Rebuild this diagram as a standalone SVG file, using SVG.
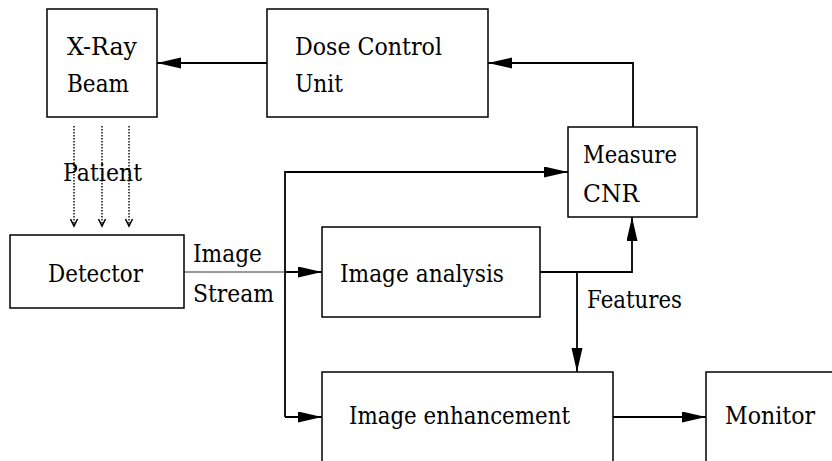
<svg xmlns="http://www.w3.org/2000/svg" width="832" height="461" viewBox="0 0 832 461">
<defs>
<marker id="ah" markerUnits="userSpaceOnUse" markerWidth="26" markerHeight="14" refX="24" refY="5.5" orient="auto">
<path d="M0,0 L24,5.5 L0,11 z" fill="#000"/>
</marker>
<marker id="open" markerUnits="userSpaceOnUse" markerWidth="10" markerHeight="10" refX="4" refY="8" orient="0">
<path d="M0.5,1 L4,8 L7.5,1" fill="none" stroke="#000" stroke-width="1.5"/>
</marker>
<style>
.box{fill:#fff;stroke:#000;stroke-width:1.5}
.t{font-family:"DejaVu Serif",serif;font-size:25px;fill:#000}
.c{fill:none;stroke:#000;stroke-width:1.8}
.thin{fill:none;stroke:#333;stroke-width:1}
.dot{fill:none;stroke:#000;stroke-width:1.4;stroke-dasharray:1.5 1.5}
</style>
</defs>
<rect width="832" height="461" fill="#fff"/>
<g id="connectors">
<path class="c" d="M267,63 H157" marker-end="url(#ah)"/>
<path class="c" d="M633,127 V63 H488" marker-end="url(#ah)"/>
<path class="c" d="M285,417 V172 H568" marker-end="url(#ah)"/>
<path class="thin" d="M184,272 H285"/>
<path class="c" d="M285,272 H322" marker-end="url(#ah)"/>
<path class="c" d="M285,417 H322" marker-end="url(#ah)"/>
<path class="c" d="M540,272 H632 V217" marker-end="url(#ah)"/>
<path class="c" d="M577,272 V372" marker-end="url(#ah)"/>
<path class="c" d="M613,417 H706" marker-end="url(#ah)"/>
<path class="dot" d="M74,126 V226" marker-end="url(#open)"/>
<path class="dot" d="M102,126 V226" marker-end="url(#open)"/>
<path class="dot" d="M129,126 V226" marker-end="url(#open)"/>
<text class="t" x="63" y="181" textLength="79" lengthAdjust="spacingAndGlyphs">Patient</text>
<text class="t" x="193" y="262" textLength="69" lengthAdjust="spacingAndGlyphs">Image</text>
<text class="t" x="193" y="302" textLength="81" lengthAdjust="spacingAndGlyphs">Stream</text>
<text class="t" x="587" y="308" textLength="95" lengthAdjust="spacingAndGlyphs">Features</text>
</g>
<g id="xray">
<rect class="box" x="47" y="9" width="110" height="108"/>
<text class="t" x="67" y="55" textLength="70" lengthAdjust="spacingAndGlyphs">X-Ray</text>
<text class="t" x="67" y="92" textLength="62" lengthAdjust="spacingAndGlyphs">Beam</text>
</g>
<g id="dose">
<rect class="box" x="267" y="9" width="221" height="108"/>
<text class="t" x="295" y="55" textLength="147" lengthAdjust="spacingAndGlyphs">Dose Control</text>
<text class="t" x="295" y="92" textLength="48" lengthAdjust="spacingAndGlyphs">Unit</text>
</g>
<g id="measure">
<rect class="box" x="568" y="127" width="129" height="90"/>
<text class="t" x="583" y="163" textLength="94" lengthAdjust="spacingAndGlyphs">Measure</text>
<text class="t" x="583" y="202" textLength="56" lengthAdjust="spacingAndGlyphs">CNR</text>
</g>
<g id="detector">
<rect class="box" x="10" y="235" width="174" height="73"/>
<text class="t" x="48" y="282" textLength="95" lengthAdjust="spacingAndGlyphs">Detector</text>
</g>
<g id="analysis">
<rect class="box" x="322" y="227" width="218" height="90"/>
<text class="t" x="340" y="282" textLength="164" lengthAdjust="spacingAndGlyphs">Image analysis</text>
</g>
<g id="enhancement">
<path class="box" d="M322,470 V372 H613 V470"/>
<text class="t" x="349" y="424" textLength="221" lengthAdjust="spacingAndGlyphs">Image enhancement</text>
</g>
<g id="monitor">
<path class="box" d="M706,470 V372 H840"/>
<text class="t" x="725" y="424" textLength="90" lengthAdjust="spacingAndGlyphs">Monitor</text>
</g>
</svg>
